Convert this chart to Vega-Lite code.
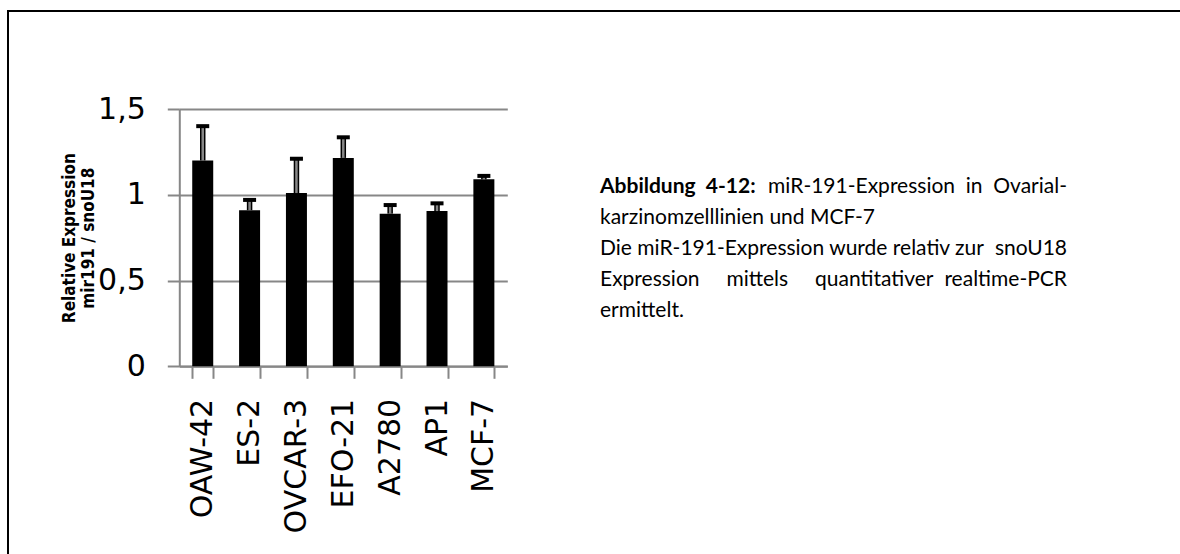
{
  "$schema": "https://vega.github.io/schema/vega-lite/v6.json",
  "width": 1202,
  "height": 573,
  "autosize": {"type": "none"},
  "padding": {"left": 8, "top": 11, "right": -30, "bottom": -30},
  "background": "white",
  "config": {
    "view": {"stroke": "#000000", "strokeWidth": 2},
    "text": {"font": "Lato"}
  },
  "datasets": {
    "expression": [
      {"cell": "OAW-42", "expr": 1.20, "upper": 1.40},
      {"cell": "ES-2", "expr": 0.91, "upper": 0.97},
      {"cell": "OVCAR-3", "expr": 1.01, "upper": 1.21},
      {"cell": "EFO-21", "expr": 1.215, "upper": 1.335},
      {"cell": "A2780", "expr": 0.89, "upper": 0.94},
      {"cell": "AP1", "expr": 0.905, "upper": 0.95},
      {"cell": "MCF-7", "expr": 1.09, "upper": 1.11}
    ],
    "caption": [
      {"line": 1, "side": "start", "part": "label", "text": "Abbildung\u00a0\u00a04-12:"},
      {"line": 1, "side": "end", "part": "body", "text": "miR-191-Expression\u00a0\u00a0in\u00a0\u00a0Ovarial-"},
      {"line": 2, "side": "start", "part": "body", "text": "karzinomzelllinien und MCF-7"},
      {"line": 3, "side": "start", "part": "body", "text": "Die miR-191-Expression wurde relativ zur"},
      {"line": 3, "side": "end", "part": "body", "text": "snoU18"},
      {"line": 4, "side": "start", "part": "body", "text": "Expression\u00a0\u00a0\u00a0\u00a0\u00a0mittels\u00a0\u00a0\u00a0\u00a0\u00a0quantitativer"},
      {"line": 4, "side": "end", "part": "body", "text": "realtime-PCR"},
      {"line": 5, "side": "start", "part": "body", "text": "ermittelt."}
    ]
  },
  "layer": [
    {
      "data": {"name": "expression"},
      "encoding": {
        "x": {
          "field": "cell",
          "type": "nominal",
          "sort": null,
          "scale": {"range": [171.3, 499.3], "paddingInner": 0.552, "paddingOuter": 0.276},
          "axis": {
            "title": null,
            "orient": "bottom",
            "offset": -217.7,
            "tickBand": "extent",
            "tickSize": 12,
            "tickWidth": 2,
            "tickColor": "#878787",
            "domainColor": "#878787",
            "domainWidth": 2,
            "labelAngle": 270,
            "labelAlign": "right",
            "labelBaseline": "middle",
            "labelFont": "DejaVu Sans",
            "labelFontSize": 30,
            "labelColor": "#000000",
            "labelPadding": 20,
            "grid": false
          }
        }
      },
      "layer": [
        {
          "mark": {"type": "bar", "color": "#000000"},
          "encoding": {
            "y": {
              "field": "expr",
              "type": "quantitative",
              "scale": {"domain": [0, 1.5], "range": [355.3, 98], "nice": false},
              "axis": {
                "values": [0, 0.5, 1, 1.5],
                "offset": -171.3,
                "tickSize": 12,
                "tickWidth": 2,
                "tickColor": "#878787",
                "domainColor": "#878787",
                "domainWidth": 2,
                "grid": true,
                "gridColor": "#878787",
                "gridWidth": 2,
                "gridOpacity": 1,
                "labelExpr": "replace(format(datum.value, '~g'), '.', ',')",
                "labelFont": "DejaVu Sans",
                "labelFontSize": 30,
                "labelColor": "#000000",
                "labelPadding": 22,
                "title": ["Relative Expression", "mir191 / snoU18"],
                "titleFont": "Liberation Sans Narrow, DejaVu Sans Condensed",
                "titleFontSize": 17,
                "titleFontWeight": "bold",
                "titleColor": "#000000",
                "titleLineHeight": 19,
                "titlePadding": 0
              }
            }
          }
        },
        {
          "mark": {"type": "rule", "color": "#000000", "strokeWidth": 5.5},
          "encoding": {"y": {"field": "expr", "type": "quantitative"}, "y2": {"field": "upper"}}
        },
        {
          "mark": {"type": "rule", "color": "#878787", "strokeWidth": 2.5},
          "encoding": {"y": {"field": "expr", "type": "quantitative"}, "y2": {"field": "upper"}}
        },
        {
          "mark": {"type": "tick", "color": "#000000", "size": 13, "thickness": 4, "opacity": 1},
          "encoding": {"y": {"field": "upper", "type": "quantitative"}}
        }
      ]
    },
    {
      "data": {"name": "caption"},
      "encoding": {
        "x": {
          "field": "side",
          "type": "nominal",
          "scale": {"type": "point", "domain": ["start", "end"], "range": [592, 1059], "padding": 0},
          "axis": null
        },
        "y": {
          "field": "line",
          "type": "ordinal",
          "scale": {"type": "point", "domain": [1, 2, 3, 4, 5], "range": [182, 305.5], "padding": 0},
          "axis": null
        },
        "text": {"field": "text"}
      },
      "layer": [
        {
          "transform": [{"filter": "datum.part === 'body' && datum.side === 'start'"}],
          "mark": {"type": "text", "align": "left", "baseline": "alphabetic", "fontSize": 21, "color": "#000000"}
        },
        {
          "transform": [{"filter": "datum.part === 'body' && datum.side === 'end'"}],
          "mark": {"type": "text", "align": "right", "baseline": "alphabetic", "fontSize": 21, "color": "#000000"}
        },
        {
          "transform": [{"filter": "datum.part === 'label'"}],
          "mark": {"type": "text", "align": "left", "baseline": "alphabetic", "fontSize": 21, "fontWeight": "bold", "color": "#000000"}
        }
      ]
    }
  ],
  "resolve": {"scale": {"x": "independent", "y": "independent"}}
}
